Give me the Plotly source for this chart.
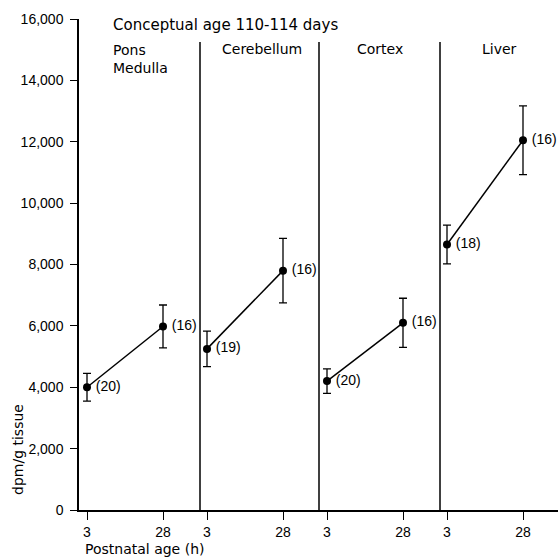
import plotly.graph_objects as go
from plotly.subplots import make_subplots

# ---- data ----
panels = ["Pons<br>Medulla", "Cerebellum", "Cortex", "Liver"]
ages = [3, 28]
pons_vals = [4000, 5980]
pons_err = [450, 700]
pons_n = ["(20)", "(16)"]
cereb_vals = [5250, 7800]
cereb_err = [580, 1050]
cereb_n = ["(19)", "(16)"]
cortex_vals = [4200, 6100]
cortex_err = [400, 800]
cortex_n = ["(20)", "(16)"]
liver_vals = [8650, 12050]
liver_err = [630, 1120]
liver_n = ["(18)", "(16)"]
y_ticks = [0, 2000, 4000, 6000, 8000, 10000, 12000, 14000, 16000]
y_ticktext = ["0", "2,000", "4,000", "6,000", "8,000", "10,000", "12,000", "14,000", "16,000"]
title_text = "Conceptual age 110-114 days"
x_title = "Postnatal age (h)"
y_title = "dpm/g tissue"

series = [
    (pons_vals, pons_err, pons_n),
    (cereb_vals, cereb_err, cereb_n),
    (cortex_vals, cortex_err, cortex_n),
    (liver_vals, liver_err, liver_n),
]

FONT = "Liberation Sans, Arial, sans-serif"
FONT2 = "DejaVu Sans, sans-serif"
W, H = 558, 558
L, R, T, B = 79, 0, 19, 48
plot_w = W - L - R

fig = make_subplots(rows=1, cols=4, shared_yaxes=True, horizontal_spacing=0)

for i, (vals, err, n) in enumerate(series):
    fig.add_trace(go.Scatter(
        x=ages, y=vals, mode="lines+markers+text",
        text=["\u2009" + s for s in n], textposition="middle right",
        textfont=dict(family=FONT, size=14, color="black"),
        line=dict(color="black", width=1.5),
        marker=dict(color="black", size=8),
        error_y=dict(type="data", array=err, visible=True, color="black",
                     thickness=1.3, width=4),
        showlegend=False, cliponaxis=False, hoverinfo="skip",
    ), row=1, col=i + 1)

# panel boundaries in pixels
bounds_px = [79, 200, 319, 440, 558]
bounds = [(b - L) / plot_w for b in bounds_px]
px_per_h = 76 / 25.0
tick3_off = [8, 7, 8, 7]

for i in range(4):
    axname = "xaxis" if i == 0 else f"xaxis{i+1}"
    width_px = bounds_px[i + 1] - bounds_px[i]
    x0 = 3 - tick3_off[i] / px_per_h
    x1 = x0 + width_px / px_per_h
    fig.layout[axname].update(
        domain=[bounds[i], bounds[i + 1]], range=[x0, x1],
        tickvals=ages, ticktext=[str(a) for a in ages],
        ticks="outside", ticklen=8, tickwidth=1.3, tickcolor="black",
        showline=True, linecolor="black", linewidth=1.5,
        showgrid=False, zeroline=False,
        tickfont=dict(family=FONT, size=14, color="black"),
    )

fig.update_yaxes(range=[0, 16000], showgrid=False, zeroline=False)
fig.layout.yaxis.update(
    tickvals=y_ticks, ticktext=y_ticktext, ticks="outside", ticklen=7,
    tickwidth=1.3, tickcolor="black", showline=True, linecolor="black",
    linewidth=1.5, tickfont=dict(family=FONT, size=14, color="black"),
    ticklabelstandoff=4,
)
for k in range(2, 5):
    fig.layout[f"yaxis{k}"].update(showticklabels=False, ticks="", showline=False)

# divider lines between panels
for b in bounds[1:4]:
    fig.add_shape(type="line", xref="paper", yref="y", x0=b, x1=b, y0=0, y1=15250,
                  line=dict(color="black", width=1.5))

# annotations
def px2x(px):
    return (px - L) / plot_w

def py2y(py):
    return (H - B - py) / (H - T - B)

ann = []
ann.append(dict(text=title_text, x=px2x(111), y=py2y(25), xanchor="left", yanchor="middle",
                font=dict(family=FONT2, size=15, color="black")))
ann.append(dict(text=panels[0], x=px2x(111), y=py2y(40), xanchor="left", yanchor="top",
                align="left", font=dict(family=FONT2, size=14, color="black")))
centers = [None, 262, 380, 499]
for i in range(1, 4):
    ann.append(dict(text=panels[i], x=px2x(centers[i]), y=py2y(49), xanchor="center",
                    yanchor="middle", font=dict(family=FONT2, size=14, color="black")))
ann.append(dict(text=x_title, x=px2x(83), y=py2y(549), xanchor="left", yanchor="middle",
                font=dict(family=FONT2, size=14, color="black")))
ann.append(dict(text=y_title, x=px2x(18), y=py2y(449), xanchor="center", yanchor="middle",
                textangle=-90, font=dict(family=FONT2, size=14, color="black")))
for a in ann:
    a.update(xref="paper", yref="paper", showarrow=False)
fig.update_layout(annotations=ann)

fig.update_layout(
    width=W, height=H, margin=dict(l=L, r=R, t=T, b=B),
    paper_bgcolor="white", plot_bgcolor="white",
    font=dict(family=FONT, color="black"),
)

fig.write_html("out.html", config={"displayModeBar": False},
               post_script="document.body.style.margin='0px';")
